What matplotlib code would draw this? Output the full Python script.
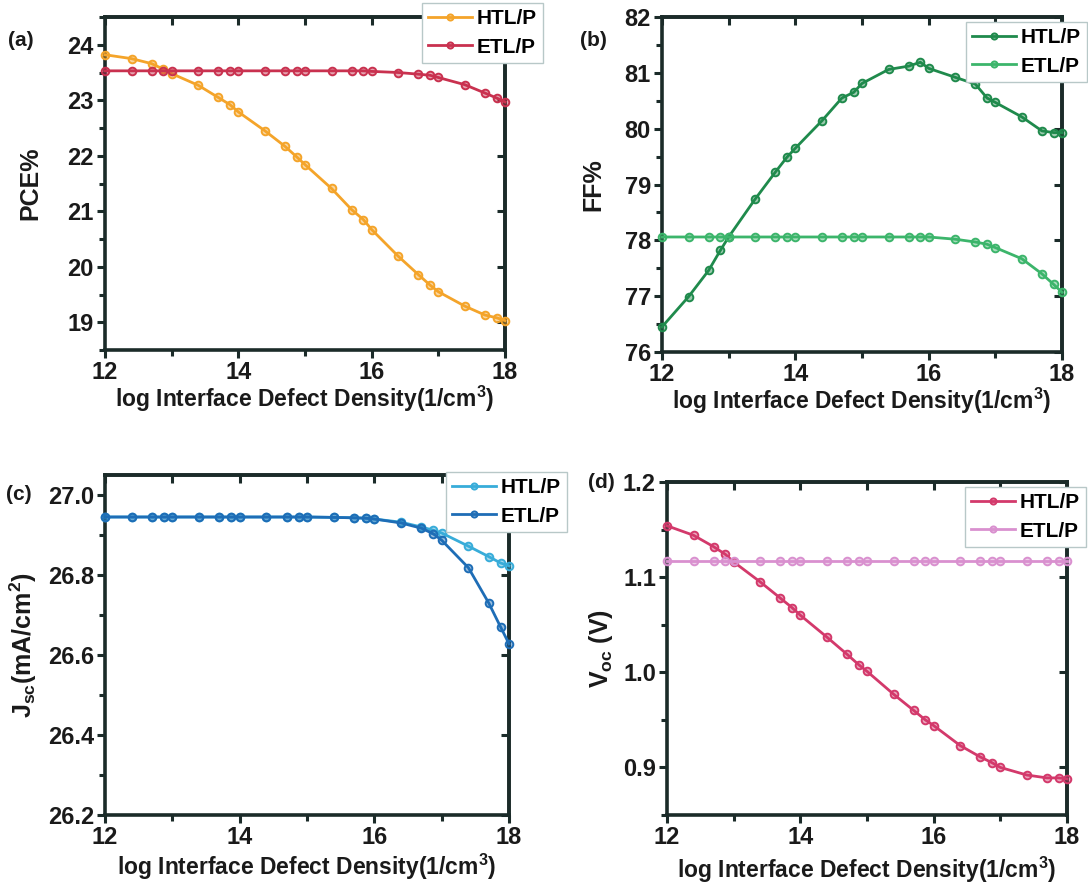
import numpy as np
import matplotlib
matplotlib.use("Agg")
import matplotlib.pyplot as plt
from matplotlib.colors import to_rgba
from matplotlib.ticker import MultipleLocator, FormatStrFormatter, NullFormatter

plt.rcParams['font.family'] = ['Liberation Sans', 'DejaVu Sans']
plt.rcParams['font.weight'] = 'bold'
plt.rcParams['mathtext.fontset'] = 'custom'
plt.rcParams['mathtext.rm'] = 'Liberation Sans:bold'
plt.rcParams['mathtext.it'] = 'Liberation Sans:bold'
plt.rcParams['mathtext.bf'] = 'Liberation Sans:bold'

# interface defect density (1/cm3), plotted as log10
density = [1e12, 2.5e12, 5e12, 7.5e12,
           1e13, 2.5e13, 5e13, 7.5e13,
           1e14, 2.5e14, 5e14, 7.5e14,
           1e15, 2.5e15, 5e15, 7.5e15,
           1e16, 2.5e16, 5e16, 7.5e16,
           1e17, 2.5e17, 5e17, 7.5e17,
           1e18]
x = np.log10(density)

pce_htl = [23.82, 23.75, 23.66, 23.56, 23.48, 23.27, 23.05, 22.92, 22.79, 22.45, 22.17, 21.98, 21.84,
           21.41, 21.03, 20.85, 20.67, 20.19, 19.86, 19.67, 19.55, 19.29, 19.13, 19.08, 19.03]
pce_etl = [23.53, 23.53, 23.53, 23.53, 23.53, 23.53, 23.53, 23.53, 23.53, 23.53, 23.53, 23.53, 23.53,
           23.53, 23.53, 23.53, 23.52, 23.50, 23.47, 23.45, 23.41, 23.28, 23.13, 23.04, 22.97]

ff_htl = [76.45, 76.99, 77.46, 77.82, 78.06, 78.74, 79.22, 79.49, 79.65, 80.14, 80.55, 80.65, 80.81,
          81.06, 81.12, 81.19, 81.08, 80.92, 80.80, 80.55, 80.47, 80.21, 79.96, 79.93, 79.93]
ff_etl = [78.06, 78.06, 78.06, 78.06, 78.06, 78.06, 78.06, 78.06, 78.06, 78.06, 78.06, 78.06, 78.06,
          78.06, 78.06, 78.06, 78.06, 78.02, 77.97, 77.93, 77.87, 77.67, 77.40, 77.21, 77.07]

jsc_htl = [26.945, 26.945, 26.945, 26.945, 26.945, 26.945, 26.945, 26.945, 26.945, 26.945, 26.945,
           26.945, 26.945, 26.944, 26.943, 26.942, 26.940, 26.932, 26.920, 26.912, 26.905, 26.872,
           26.846, 26.830, 26.823]
jsc_etl = [26.945, 26.945, 26.945, 26.945, 26.945, 26.945, 26.945, 26.945, 26.945, 26.945, 26.945,
           26.945, 26.945, 26.944, 26.943, 26.942, 26.940, 26.930, 26.917, 26.903, 26.887, 26.818,
           26.730, 26.670, 26.628]

voc_htl = [1.154, 1.144, 1.132, 1.124, 1.116, 1.095, 1.078, 1.068, 1.060, 1.037, 1.019, 1.008, 1.001,
           0.977, 0.960, 0.950, 0.944, 0.923, 0.911, 0.905, 0.900, 0.892, 0.889, 0.889, 0.888]
voc_etl = [1.117, 1.117, 1.117, 1.117, 1.117, 1.117, 1.117, 1.117, 1.117, 1.117, 1.117, 1.117, 1.117,
           1.117, 1.117, 1.117, 1.117, 1.117, 1.117, 1.117, 1.117, 1.117, 1.117, 1.117, 1.117]

W, H = 1088, 892
fig = plt.figure(figsize=(W / 100, H / 100), dpi=100)
spine_col = '#1b2b29'
text_col = '#1a1a1a'


def px_axes(l, t, r, b):
    return fig.add_axes([l / W, 1 - b / H, (r - l) / W, (b - t) / H])


def style(ax, ylim, ymaj, ymin, yfmt, xpad):
    ax.set_xlim(12, 18)
    ax.set_ylim(*ylim)
    ax.xaxis.set_major_locator(MultipleLocator(2))
    ax.xaxis.set_minor_locator(MultipleLocator(1))
    ax.yaxis.set_major_locator(MultipleLocator(ymaj))
    ax.yaxis.set_minor_locator(MultipleLocator(ymin))
    ax.yaxis.set_major_formatter(yfmt)
    for s in ax.spines.values():
        s.set_linewidth(2.6)
        s.set_color(spine_col)
    ax.tick_params(which='both', direction='out', colors=spine_col, width=2.2,
                   labelsize=17, labelcolor=text_col, pad=2)
    ax.tick_params(which='major', length=6)
    ax.tick_params(which='minor', length=4)
    # mirrored ticks on top and right, pointing in
    top = ax.secondary_xaxis('top')
    top.xaxis.set_major_locator(MultipleLocator(1))
    top.xaxis.set_major_formatter(NullFormatter())
    top.tick_params(direction='in', length=6, width=2.2, colors=spine_col)
    right = ax.secondary_yaxis('right')
    right.yaxis.set_major_locator(MultipleLocator(ymaj))
    right.yaxis.set_major_formatter(NullFormatter())
    right.tick_params(direction='in', length=6, width=2.2, colors=spine_col)
    for sec in (top, right):
        for s in sec.spines.values():
            s.set_linewidth(2.6)
            s.set_color(spine_col)
    ax.set_xlabel('log Interface Defect Density(1/cm$^3$)', fontsize=16.5,
                  fontweight='bold', labelpad=xpad, color=text_col)


def draw(ax, c1, c2, y1, y2, legend_box):
    for yv, c, lab in ((y1, c1, 'HTL/P'), (y2, c2, 'ETL/P')):
        ax.plot(x, yv, '-o', color=c, lw=2.0, ms=5.5, mec=c, mew=1.4,
                mfc=to_rgba(c, 0.45), label=lab, clip_on=False, zorder=3)
    l, t = legend_box
    leg = ax.legend(loc='upper left', bbox_to_anchor=(l / W, 1 - t / H),
                    bbox_transform=fig.transFigure, fancybox=False, framealpha=1,
                    edgecolor='#b8c8c8', borderpad=0.3, handlelength=2.1,
                    handletextpad=0.2, labelspacing=0.45, markerscale=0.8,
                    prop={'weight': 'bold', 'size': 15}, borderaxespad=0)
    leg.get_frame().set_linewidth(1.0)
    leg.set_zorder(5)


fmt_int = FormatStrFormatter('%d')
fmt_1 = FormatStrFormatter('%.1f')

# (a) PCE
ax1 = px_axes(105, 17, 505, 350)
style(ax1, (18.5, 24.5), 1, 0.5, fmt_int, 0)
draw(ax1, '#f4a42a', '#c9314f', pce_htl, pce_etl, (422, 3))
ax1.set_ylabel('PCE%', fontsize=18, fontweight='bold', labelpad=18, color=text_col)

# (b) FF
ax2 = px_axes(662, 17, 1062, 352)
style(ax2, (76, 82), 1, 0.5, fmt_int, 0)
draw(ax2, '#1f8a4c', '#3cb56b', ff_htl, ff_etl, (966, 22))
ax2.set_ylabel('FF%', fontsize=18, fontweight='bold', labelpad=14, color=text_col)

# (c) Jsc
ax3 = px_axes(105, 475, 509, 815)
style(ax3, (26.2, 27.05), 0.2, 0.1, fmt_1, 2)
draw(ax3, '#38acd9', '#1e6db6', jsc_htl, jsc_etl, (446, 472))
ax3.set_ylabel('J$_{sc}$(mA/cm$^2$)', fontsize=18, fontweight='bold', labelpad=6, color=text_col)

# (d) Voc
ax4 = px_axes(667, 482, 1067, 815)
style(ax4, (0.85, 1.2), 0.1, 0.05, fmt_1, 4)
draw(ax4, '#d3396b', '#d990cf', voc_htl, voc_etl, (965, 487))
ax4.set_ylabel('V$_{oc}$ (V)', fontsize=18, fontweight='bold', labelpad=6, color=text_col)

for lab, (px, py) in {'(a)': (8, 40), '(b)': (580, 40), '(c)': (6, 495), '(d)': (588, 482)}.items():
    fig.text(px / W, 1 - py / H, lab, fontsize=15, fontweight='bold', color=text_col,
             ha='left', va='center')

fig.savefig('out.png', dpi=100, facecolor='white')
